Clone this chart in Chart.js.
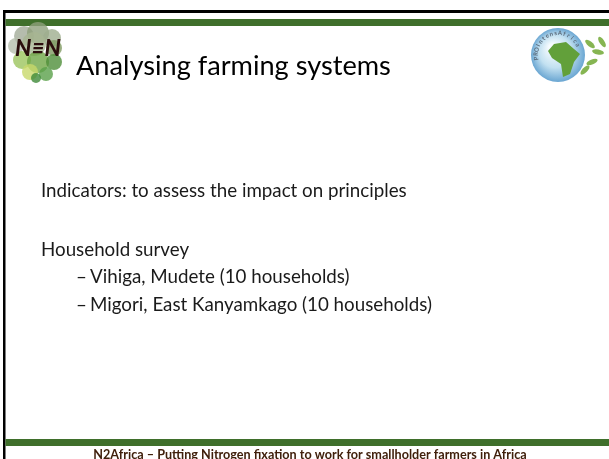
<!DOCTYPE html>
<html>
<head>
<meta charset="utf-8">
<script src="https://cdn.jsdelivr.net/npm/chart.js@4.4.1/dist/chart.umd.min.js"></script>
<style>
  html, body { margin: 0; padding: 0; background: #fff; }
  #slide { display: block; }
</style>
</head>
<body>
<canvas id="slide" width="609" height="459"></canvas>
<script>
// slide content
const titleText = 'Analysing farming systems';
const introLines = ['Indicators: to assess the impact on principles', 'Household survey'];
const surveyItems = ['Vihiga, Mudete (10 households)', 'Migori, East Kanyamkago (10 households)'];
const footerText = 'N2Africa \u2013 Putting Nitrogen fixation to work for smallholder farmers in Africa';

const FONT = 'Lato, "Open Sans", sans-serif';
const GREEN = '#3f6f2b';

// font size that makes text span the given width
const fitSize = (ctx, text, weight, width) => {
  ctx.font = `${weight} 100px ${FONT}`;
  return 100 * width / ctx.measureText(text).width;
};

const drawLeftLogo = (ctx) => {
  const blobs = [
    [24, 36, 10, '#a3ab98'], [38, 33, 11, '#8fa07c'], [52, 38, 9, '#9fae8e'],
    [16, 46, 8, '#b7bfae'], [34, 44, 12, '#a8b592'], [54, 48, 8, '#7f9a62'],
    [22, 60, 9, '#9cc45e'], [38, 62, 11, '#6fa646'], [54, 62, 8, '#4f8f3a'],
    [30, 72, 8, '#c8d86a'], [46, 74, 7, '#5aa04a'], [36, 78, 5, '#3f8a38']
  ];
  blobs.forEach(([x, y, r, c]) => {
    ctx.beginPath();
    ctx.fillStyle = c;
    ctx.globalAlpha = 0.8;
    ctx.arc(x, y, r, 0, Math.PI * 2);
    ctx.fill();
  });
  ctx.globalAlpha = 1;
  ctx.textBaseline = 'alphabetic';
  ctx.textAlign = 'left';
  const s = fitSize(ctx, 'N\u2261N', 'italic 900', 46);
  ctx.font = `italic 900 ${s}px ${FONT}`;
  ctx.fillStyle = '#2b0d0d';
  ctx.fillText('N\u2261N', 15, 56);
};

const drawRightLogo = (ctx) => {
  const cx = 558, cy = 55, r = 27;
  const g = ctx.createRadialGradient(cx - 6, cy - 8, 3, cx, cy, r);
  g.addColorStop(0, '#f6fbfe');
  g.addColorStop(0.55, '#c3e1f1');
  g.addColorStop(1, '#6aa6d2');
  ctx.beginPath();
  ctx.fillStyle = g;
  ctx.arc(cx, cy, r, 0, Math.PI * 2);
  ctx.fill();
  // africa
  ctx.beginPath();
  ctx.fillStyle = '#62a03a';
  ctx.moveTo(554, 44); ctx.lineTo(566, 42); ctx.lineTo(574, 49);
  ctx.lineTo(580, 54); ctx.lineTo(574, 62); ctx.lineTo(570, 74);
  ctx.lineTo(563, 77); ctx.lineTo(561, 64); ctx.lineTo(552, 58);
  ctx.lineTo(548, 51); ctx.closePath();
  ctx.fill();
  // leaves
  ctx.fillStyle = '#86b552';
  [[590, 44, 0.7], [598, 52, 0.2], [592, 62, -0.4], [602, 42, 1.0], [585, 70, -0.8]].forEach(([x, y, a]) => {
    ctx.save();
    ctx.translate(x, y);
    ctx.rotate(a);
    ctx.beginPath();
    ctx.ellipse(0, 0, 6, 2.5, 0, 0, Math.PI * 2);
    ctx.fill();
    ctx.restore();
  });
  // ring text
  const label = 'PROIntensAfrica';
  ctx.font = `bold 6px ${FONT}`;
  ctx.fillStyle = '#5a6a7a';
  ctx.textAlign = 'center';
  ctx.textBaseline = 'middle';
  const start = Math.PI * 0.95, end = Math.PI * 1.85;
  for (let i = 0; i < label.length; i++) {
    const a = start + (end - start) * i / (label.length - 1);
    ctx.save();
    ctx.translate(cx + Math.cos(a) * (r - 5), cy + Math.sin(a) * (r - 5));
    ctx.rotate(a + Math.PI / 2);
    ctx.fillText(label[i], 0, 0);
    ctx.restore();
  }
};

const slidePlugin = {
  id: 'slide',
  afterDraw(chart) {
    const ctx = chart.ctx;
    ctx.save();

    // frame and bars
    ctx.fillStyle = '#000';
    ctx.fillRect(3, 10, 606, 3);
    ctx.fillRect(3, 10, 2.5, 449);
    ctx.fillStyle = GREEN;
    ctx.fillRect(5.5, 19, 604, 7);
    ctx.fillRect(5.5, 439, 604, 7);

    drawLeftLogo(ctx);
    drawRightLogo(ctx);

    ctx.textAlign = 'left';
    ctx.textBaseline = 'alphabetic';
    const titleSize = fitSize(ctx, titleText, 'normal', 315);
    ctx.fillStyle = '#000';
    ctx.font = `normal ${titleSize}px ${FONT}`;
    ctx.fillText(titleText, 76, 75);

    const bodySize = fitSize(ctx, introLines[0], 'normal', 366);
    ctx.fillStyle = '#1a1a1a';
    ctx.font = `normal ${bodySize}px ${FONT}`;
    ctx.fillText(introLines[0], 41, 197);
    ctx.fillText(introLines[1], 41, 256);
    surveyItems.forEach((item, i) => {
      const y = 283 + i * 27.5;
      ctx.fillText('\u2013', 76, y);
      ctx.fillText(item, 90, y);
    });

    const footSize = fitSize(ctx, footerText, 'bold', 434);
    ctx.font = `bold ${footSize}px ${FONT}`;
    ctx.fillStyle = '#40200c';
    ctx.textAlign = 'center';
    ctx.fillText(footerText, 310, 459);

    ctx.restore();
  }
};

new Chart(document.getElementById('slide'), {
  type: 'scatter',
  data: { datasets: [] },
  options: {
    responsive: false,
    animation: false,
    events: [],
    layout: { padding: 0 },
    scales: { x: { display: false }, y: { display: false } },
    plugins: { legend: { display: false }, tooltip: { enabled: false } }
  },
  plugins: [slidePlugin]
});
</script>
</body>
</html>
